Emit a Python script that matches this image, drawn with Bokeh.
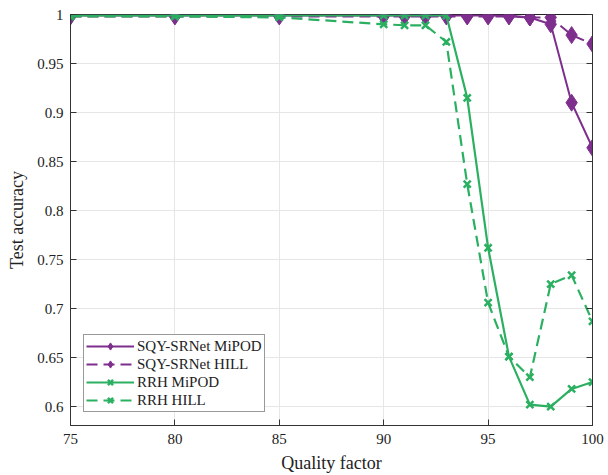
from bokeh.plotting import figure
from bokeh.models import LinearAxis, FixedTicker, Legend, LegendItem, Range1d
from bokeh.embed import file_html
from bokeh.resources import INLINE

quality = [75, 80, 85, 90, 91, 92, 93, 94, 95, 96, 97, 98, 99, 100]
sqy_mipod = [0.999, 0.999, 0.999, 0.999, 0.999, 0.999, 0.999, 0.999, 0.999, 0.999, 0.997, 0.990, 0.910, 0.864]
sqy_hill = [0.998, 0.998, 0.998, 0.998, 0.998, 0.998, 0.998, 0.998, 0.998, 0.998, 0.997, 0.997, 0.979, 0.970]
rrh_mipod = [0.999, 0.999, 0.999, 0.999, 0.999, 0.999, 0.999, 0.915, 0.762, 0.651, 0.602, 0.600, 0.618, 0.625]
rrh_hill = [0.998, 0.998, 0.997, 0.990, 0.989, 0.989, 0.972, 0.827, 0.706, 0.651, 0.630, 0.725, 0.734, 0.687]

x_ticks = [75, 80, 85, 90, 95, 100]
y_ticks = [0.6, 0.65, 0.7, 0.75, 0.8, 0.85, 0.9, 0.95, 1.0]
y_labels = {0.6: "0.6", 0.65: "0.65", 0.7: "0.7", 0.75: "0.75", 0.8: "0.8",
            0.85: "0.85", 0.9: "0.9", 0.95: "0.95", 1.0: "1"}

PURPLE = "#7E2F8E"
GREEN = "#2BB062"
FONT = "Liberation Serif"

p = figure(width=608, height=475, output_backend="svg", toolbar_location=None,
           x_range=Range1d(75, 100), y_range=Range1d(0.5807, 1.0),
           min_border_left=70, min_border_right=16, min_border_top=14, min_border_bottom=49)
p.outline_line_color = "#222222"
p.outline_line_width = 1
p.background_fill_color = "white"
p.border_fill_color = "white"

for ax in p.xaxis + p.yaxis:
    ax.major_tick_in = 6
    ax.major_tick_out = 0
    ax.minor_tick_line_color = None
    ax.axis_line_color = "#333333"
    ax.major_tick_line_color = "#333333"
    ax.major_label_text_font = FONT
    ax.major_label_text_font_size = "15px"
    ax.major_label_text_color = "#222222"
    ax.axis_label_text_font = FONT
    ax.axis_label_text_font_size = "18px"
    ax.axis_label_text_font_style = "normal"
    ax.axis_label_text_color = "#222222"

p.xaxis.ticker = FixedTicker(ticks=x_ticks)
p.yaxis.ticker = FixedTicker(ticks=y_ticks)
p.yaxis.major_label_overrides = y_labels
p.xaxis.axis_label = "Quality factor"
p.yaxis.axis_label = "Test accuracy"
p.xaxis.major_label_standoff = 8
p.yaxis.major_label_standoff = 7
p.xaxis.axis_label_standoff = 6
p.yaxis.axis_label_standoff = 7

p.xgrid.ticker = FixedTicker(ticks=x_ticks)
p.ygrid.ticker = FixedTicker(ticks=y_ticks)
p.grid.grid_line_color = "#e6e6e6"
p.grid.grid_line_width = 1

ra = LinearAxis(ticker=FixedTicker(ticks=y_ticks), major_tick_in=6, major_tick_out=0,
                major_label_overrides={t: "" for t in y_ticks}, major_label_standoff=0,
                minor_tick_line_color=None, axis_line_color="#333333",
                major_tick_line_color="#333333")
p.add_layout(ra, "right")

r1l = p.line(quality, sqy_mipod, line_color=PURPLE, line_width=2)
r1m = p.scatter(quality, sqy_mipod, marker="diamond", size=17, fill_color=PURPLE, line_color=PURPLE)
r2l = p.line(quality, sqy_hill, line_color=PURPLE, line_width=2, line_dash="11 6")
r2m = p.scatter(quality, sqy_hill, marker="diamond", size=17, fill_color=PURPLE, line_color=PURPLE)
r3l = p.line(quality, rrh_mipod, line_color=GREEN, line_width=2.2)
r3m = p.scatter(quality, rrh_mipod, marker="x", size=10, line_color=GREEN, line_width=2.5)
r4l = p.line(quality, rrh_hill, line_color=GREEN, line_width=2.2, line_dash="11 6")
r4m = p.scatter(quality, rrh_hill, marker="x", size=10, line_color=GREEN, line_width=2.5)

legend = Legend(items=[
    LegendItem(label="SQY-SRNet MiPOD", renderers=[r1l, r1m]),
    LegendItem(label="SQY-SRNet HILL", renderers=[r2l, r2m]),
    LegendItem(label="RRH MiPOD", renderers=[r3l, r3m]),
    LegendItem(label="RRH HILL", renderers=[r4l, r4m]),
], location=(13, 13))
legend.label_text_font = FONT
legend.label_text_font_size = "15px"
legend.label_text_color = "#222222"
legend.glyph_width = 48
legend.glyph_height = 18
legend.label_height = 16
legend.spacing = 0
legend.padding = 2
legend.margin = 0
legend.label_standoff = 3
legend.border_line_color = "#333333"
legend.border_line_width = 1
legend.background_fill_alpha = 1
p.add_layout(legend)

open("out.html", "w").write(file_html(p, INLINE))
